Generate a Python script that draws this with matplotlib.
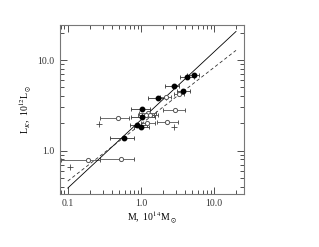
import numpy as np
import matplotlib
matplotlib.use('Agg')
import matplotlib.pyplot as plt

# filled circles: mass, mass error range, luminosity
m_fill = [5.28, 4.29, 2.82, 3.78, 1.69, 1.02, 1.05, 0.88, 1.00, 0.587]
m_fill_lo = [4.3, 3.48, 2.17, 3.13, 1.26, 0.74, 0.73, 0.70, 0.80, 0.378]
m_fill_hi = [6.2, 5.28, 3.34, 4.66, 2.19, 1.33, 1.55, 1.22, 1.29, 0.80]
l_fill = [6.76, 6.55, 5.14, 4.6, 3.78, 2.9, 2.35, 1.9, 1.82, 1.36]

# open circles
m_open = [2.19, 3.3, 2.97, 0.49, 1.26, 1.19, 1.35, 1.23, 2.29, 0.191, 0.54]
m_open_lo = [1.85, 2.8, 2.0, 0.28, 0.95, 0.92, 1.05, 1.0, 1.64, 0.080, 0.276]
m_open_hi = [2.6, 3.9, 4.0, 0.69, 1.6, 1.5, 1.7, 1.55, 3.23, 0.276, 0.80]
l_open = [3.92, 4.24, 2.83, 2.31, 2.6, 2.5, 2.45, 2.01, 2.07, 0.79, 0.81]

# crosses
m_plus = [0.27, 2.82, 0.107]
l_plus = [1.96, 1.8, 0.65]

# fitted relations (end points)
m_fit = [0.1, 20.0]
l_solid = [0.385, 20.7]
l_dashed = [0.46, 12.8]

plt.rcParams['font.family'] = 'Liberation Serif'
plt.rcParams['mathtext.fontset'] = 'stix'

fig = plt.figure(figsize=(3.19, 2.47), dpi=100)
ax = fig.add_axes([0.189, 0.216, 0.575, 0.684])

xerr_f = [np.array(m_fill) - np.array(m_fill_lo), np.array(m_fill_hi) - np.array(m_fill)]
xerr_o = [np.array(m_open) - np.array(m_open_lo), np.array(m_open_hi) - np.array(m_open)]

ax.errorbar(m_open, l_open, xerr=xerr_o, fmt='o', ms=3.0, mfc='white', mec='#555555',
            mew=0.7, ecolor='#555555', elinewidth=0.6, capsize=1.5, capthick=0.6)
ax.errorbar(m_fill, l_fill, xerr=xerr_f, fmt='o', ms=3.2, mfc='black', mec='black',
            ecolor='#333333', elinewidth=0.6, capsize=1.5, capthick=0.6)
ax.plot(m_plus, l_plus, '+', color='#444444', ms=4, mew=0.6)

ax.plot(m_fit, l_solid, '-', color='black', lw=0.6)
ax.plot(m_fit, l_dashed, '--', color='#333333', lw=0.6, dashes=(4, 3))

ax.set_xscale('log')
ax.set_yscale('log')
ax.set_xlim(0.079, 25.5)
ax.set_ylim(0.334, 24.6)

ax.set_xticks([0.1, 1, 10])
ax.set_xticklabels(['0.1', '1.0', '10.0'])
ax.set_yticks([1, 10])
ax.set_yticklabels(['1.0', '10.0'])

ax.tick_params(which='both', direction='in', top=True, right=True,
               labelsize=7, colors='#333333', width=0.6)
ax.tick_params(which='major', length=5, pad=4)
ax.tick_params(which='minor', length=3)
for s in ax.spines.values():
    s.set_color('#777777')
    s.set_linewidth(0.8)

ax.set_xlabel(r'M,  10$^{14}$M$_\odot$', fontsize=7, labelpad=1)
ax.set_ylabel(r'L$_K$,  10$^{12}$L$_\odot$', fontsize=7, labelpad=3)

fig.savefig('out.png', dpi=100)
